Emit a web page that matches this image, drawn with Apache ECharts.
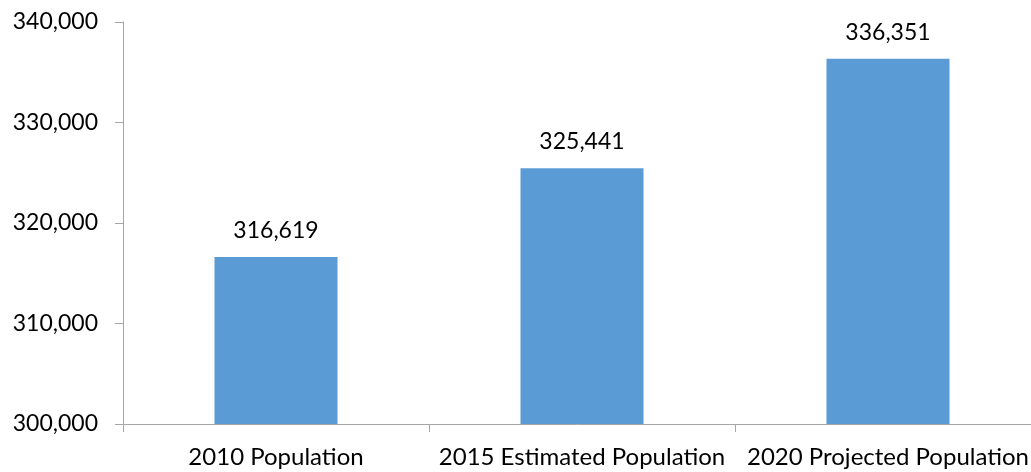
<!DOCTYPE html>
<html>
<head>
<meta charset="utf-8">
<script src="https://cdn.jsdelivr.net/npm/echarts@6/dist/echarts.min.js"></script>
<style>html,body{margin:0;padding:0;background:#fff;overflow:hidden;}#c{width:1031px;height:472px;}</style>
</head>
<body>
<div id="c"></div>
<script>
const categories = ['2010 Population', '2015 Estimated Population', '2020 Projected Population'];
const populationValues = [316619, 325441, 336351];
const yTickValues = [300000, 310000, 320000, 330000, 340000];

const fmt = v => v.toLocaleString('en-US');
const FONT = 'Lato, "Open Sans", sans-serif';
const chart = echarts.init(document.getElementById('c'));
chart.setOption({
  animation: false,
  grid: { left: 123, width: 918, top: 22, height: 402, containLabel: false, outerBoundsMode: 'none' },
  xAxis: {
    type: 'category',
    data: categories,
    axisLine: { lineStyle: { color: '#A6A6A6', width: 1 } },
    axisTick: { show: true, length: 8, lineStyle: { color: '#A6A6A6' } },
    axisLabel: { color: '#000', fontSize: 24, fontFamily: FONT, margin: 21, interval: 0 }
  },
  yAxis: {
    type: 'value',
    min: yTickValues[0],
    max: yTickValues[yTickValues.length - 1],
    interval: 10000,
    splitLine: { show: false },
    axisLine: { show: true, lineStyle: { color: '#A6A6A6', width: 1 } },
    axisTick: { show: true, length: 8, lineStyle: { color: '#A6A6A6' } },
    axisLabel: { color: '#000', fontSize: 23, fontFamily: FONT, margin: 25, formatter: fmt }
  },
  series: [{
    type: 'bar',
    data: populationValues,
    barWidth: 123,
    itemStyle: { color: '#5B9BD5' },
    label: { show: true, position: 'top', distance: 15, color: '#000', fontSize: 23, fontFamily: FONT, formatter: p => fmt(p.value) }
  }]
});
</script>
</body>
</html>
